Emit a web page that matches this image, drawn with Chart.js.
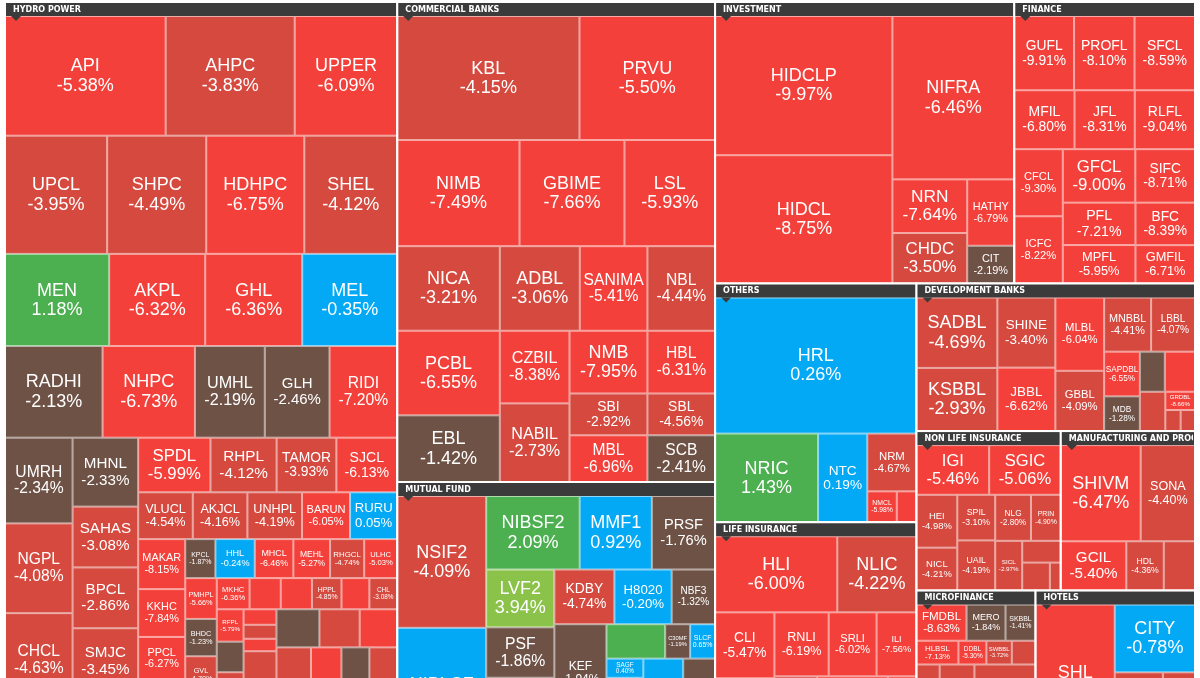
<!DOCTYPE html>
<html><head><meta charset="utf-8">
<script src="https://cdn.jsdelivr.net/npm/chart.js@4.4.1/dist/chart.umd.min.js"></script>
<style>html,body{margin:0;padding:0;background:#fff;overflow:hidden}canvas{display:block}</style>
</head><body>
<canvas id="c" width="1200" height="678"></canvas>
<script>
// ---- DATA (symbol, % change, relative size) ----
const sectorNames = ["HYDRO POWER","COMMERCIAL BANKS","MUTUAL FUND","INVESTMENT","FINANCE","OTHERS","LIFE INSURANCE","DEVELOPMENT BANKS","NON LIFE INSURANCE","MANUFACTURING AND PROC ESSING","MICROFINANCE","HOTELS"];
const sectorSize  = [295620,151680,87848,83738,50580,47800,47600,40866,22880,21280,20060,26860];

const hydroSym = ["API","AHPC","UPPER","UPCL","SHPC","HDHPC","SHEL","MEN","AKPL","GHL","MEL","RADHI","NHPC","UMHL","GLH","RIDI","UMRH","NGPL","CHCL","","MHNL","SAHAS","BPCL","SMJC","","SPDL","RHPL","TAMOR","SJCL","VLUCL","AKJCL","UNHPL","BARUN","RURU","MAKAR","KKHC","PPCL","PHCL","MMKJL","KPCL","HHL","MHCL","MEHL","RHGCL","ULHC","PMHPL","BHDC","GVL","HURJA","BGWT","MKHC","","","HPPL","","CHL","RFPL","","SMHL","","SPHL","","","","","","","","","","","","","","","","","","","",""];
const hydroChg = [-5.38,-3.83,-6.09,-3.95,-4.49,-6.75,-4.12,1.18,-6.32,-6.36,-0.35,-2.13,-6.73,-2.19,-2.46,-7.20,-2.34,-4.08,-4.63,-4.0,-2.33,-3.08,-2.86,-3.45,-5.5,-5.99,-4.12,-3.93,-6.13,-4.54,-4.16,-4.19,-6.05,0.05,-8.15,-7.84,-6.27,-6.32,-1.17,-1.87,-0.24,-6.46,-5.27,-4.74,-5.03,-5.66,-1.23,-4.70,-3.43,-2.52,-6.36,-5.5,-5.5,-4.85,-5.5,-3.08,-5.79,-2.0,-3.92,-2.0,0.74,-5.5,-4.0,-5.5,-4.0,-6.0,-2.0,-4.5,-5.5,-3.5,-6.0,-4.0,-5.5,-2.0,-4.0,-6.0,-4.0,-5.5,-3.5,-6.0,-4.0];
const hydroCap = [18800,15100,12000,11800,11450,11330,10740,9380,8650,8740,8560,8740,8280,6260,5800,6070,5660,5930,6200,3500,4420,3900,3900,4200,4250,3860,3530,3190,3250,2500,2500,2500,2200,2160,2300,2200,1980,1980,1700,1150,1500,1470,1400,1300,1260,1260,1150,1150,1050,1000,1000,950,950,900,850,850,850,800,800,750,750,500,450,400,1800,1700,1600,1500,1400,1300,1300,1200,1200,1100,1100,1000,1000,900,900,800,800,700];

const bankSym = ["KBL","PRVU","NIMB","GBIME","LSL","NICA","PCBL","EBL","ADBL","SANIMA","NBL","CZBIL","NABIL","NMB","HBL","SBI","MBL","SBL","SCB"];
const bankChg = [-4.15,-5.50,-7.49,-7.66,-5.93,-3.21,-6.55,-1.42,-3.06,-5.41,-4.44,-8.38,-2.73,-7.95,-6.31,-2.92,-6.96,-4.56,-2.41];
const bankCap = [22140,16480,12720,10920,9430,8500,8500,6700,6630,5610,5610,4960,5370,4790,4160,3190,3570,2770,3100];

const mfSym = ["NSIF2","NIBLCF","NIBSF2","MMF1","PRSF","LVF2","PSF","","KDBY","H8020","NBF3","KEF","SIGS3","","C30MF","SLCF","SAGF","","","","",""];
const mfChg = [-4.09,0.50,2.09,0.92,-1.76,3.94,-1.86,-2.0,-4.74,-0.20,-1.32,-1.94,-3.69,1.50,-1.19,0.65,0.40,0.30,0.20,-2.0,-4.0,0.5];
const mfCap = [11600,11630,6800,5250,4600,3900,3400,5550,3250,3100,2350,5000,2000,2000,850,850,700,3000,2500,2000,1500,1200];

const invSym = ["HIDCLP","HIDCL","NIFRA","NRN","CHDC","HATHY","CIT"];
const invChg = [-9.97,-8.75,-6.46,-7.64,-3.50,-6.79,-2.19];
const invCap = [24300,22400,19600,3950,3720,3080,1750];

const finSym = ["GUFL","PROFL","SFCL","MFIL","JFL","RLFL","CFCL","ICFC","GFCL","SIFC","PFL","MPFL","BFC","GMFIL"];
const finChg = [-9.91,-8.10,-8.59,-6.80,-8.31,-9.04,-9.30,-8.22,-9.00,-8.71,-7.21,-5.95,-8.39,-6.71];
const finCap = [4350,4400,4400,3480,3480,3480,3190,3200,3800,3130,3020,2740,2480,2240];

const othSym = ["HRL","NRIC","NTC","NRM","NMCL",""];
const othChg = [0.26,1.43,0.19,-4.67,-5.98,-6.0];
const othCap = [27000,9000,4300,2800,900,600];

const lifeSym = ["HLI","NLIC","CLI","","RNLI","SRLI","ILI","","","",""];
const lifeChg = [-6.00,-4.22,-5.47,-5.5,-6.19,-6.02,-7.56,-4.0,-6.0,-4.5,-5.5];
const lifeCap = [9100,5900,3830,4750,3400,3000,2500,3500,3000,2800,2340];

const devSym = ["SADBL","KSBBL","SHINE","JBBL","MLBL","GBBL","MNBBL","LBBL","SAPDBL","MDB","","","","GRDBL","",""];
const devChg = [-4.69,-2.93,-3.40,-6.62,-6.04,-4.09,-4.41,-4.07,-6.55,-1.28,-2.0,-5.5,-4.0,-8.66,-4.0,-4.0];
const devCap = [5460,4900,3900,3530,3430,2820,2440,2280,1530,1190,960,1160,960,520,310,290];

const nlSym = ["IGI","SGIC","HEI","NICL","SPIL","UAIL","NLG","PRIN","SICL","","",""];
const nlChg = [-5.46,-5.06,-4.98,-4.21,-3.10,-4.19,-2.80,-4.90,-2.97,-4.0,-4.0,-4.0];
const nlCap = [3550,3500,2120,1720,1700,1870,1620,1350,1320,825,760,300];

const mfgSym = ["SHIVM","SONA","GCIL","HDL",""];
const mfgChg = [-6.47,-4.40,-5.40,-4.36,-4.0];
const mfgCap = [7490,5090,3150,1800,1500];

const micSym = ["FMDBL","MERO","SKBBL","HLBSL","DDBL","SWBBL","","GBLBS","","","","","","","","",""];
const micChg = [-8.63,-1.84,-1.41,-7.13,-5.30,-3.72,-4.0,-4.0,-2.0,-5.5,-4.0,-6.0,-4.0,-4.5,-5.5,-2.0,-4.0];
const micCap = [1800,1400,1080,990,660,600,560,400,300,1500,1300,1100,900,2000,1600,1200,1000];

const hotSym = ["SHL","CITY","TRH","",""];
const hotChg = [-6.64,-0.78,-4.0,-4.0,-5.5];
const hotCap = [11700,5170,3000,2000,1690];

const sectorSym = [hydroSym,bankSym,mfSym,invSym,finSym,othSym,lifeSym,devSym,nlSym,mfgSym,micSym,hotSym];
const sectorChg = [hydroChg,bankChg,mfChg,invChg,finChg,othChg,lifeChg,devChg,nlChg,mfgChg,micChg,hotChg];
const sectorCap = [hydroCap,bankCap,mfCap,invCap,finCap,othCap,lifeCap,devCap,nlCap,mfgCap,micCap,hotCap];

// ---- layout helpers ----
function worst(row, side){
  const s=row.reduce((a,b)=>a+b,0), mx=Math.max(...row), mn=Math.min(...row);
  return Math.max(side*side*mx/(s*s), (s*s)/(side*side*mn));
}
function squarify(vals,x,y,w,h){
  const tot=vals.reduce((a,b)=>a+b,0), k=w*h/tot, areas=vals.map(v=>v*k), out=[];
  let i=0;
  while(i<areas.length){
    const side=Math.min(w,h); let row=[areas[i]], j=i+1;
    while(j<areas.length){ const nr=row.concat(areas[j]); if(worst(nr,side)<=worst(row,side)){row=nr;j++;} else break; }
    const s=row.reduce((a,b)=>a+b,0);
    if(w>=h){ const cw=s/h; let yy=y; row.forEach(a=>{const hh=a/cw; out.push([x,yy,cw,hh]); yy+=hh;}); x+=cw; w-=cw; }
    else { const rh=s/w; let xx=x; row.forEach(a=>{const ww=a/rh; out.push([xx,y,ww,rh]); xx+=ww;}); y+=rh; h-=rh; }
    i=j;
  }
  return out;
}
function colorFor(c){
  if(c>=3) return '#8bc34a';
  if(c>=1) return '#4caf50';
  if(c>-1) return '#03a9f4';
  if(c>-2.5) return '#6f5246';
  if(c>-5) return '#d5493f';
  return '#f4403a';
}

const HEADER=14;
const treemapPlugin={
  id:'treemap',
  afterDatasetsDraw(chart){
    const ctx=chart.ctx, xs=chart.scales.x, ys=chart.scales.y;
    const px=v=>xs.getPixelForValue(v), py=v=>ys.getPixelForValue(v);
    const secRects=squarify(sectorSize,5,2,1190,758);
    secRects.forEach((r,si)=>{
      const X=px(r[0]), Y=py(r[1]), W=px(r[0]+r[2])-X, H=py(r[1]+r[3])-Y;
      const inner=squarify(sectorCap[si],r[0],r[1]+HEADER,r[2],r[3]-HEADER);
      inner.forEach((c,i)=>{
        const cx=px(c[0]), cy=py(c[1]), cw=px(c[0]+c[2])-cx, ch=py(c[1]+c[3])-cy;
        ctx.fillStyle=colorFor(sectorChg[si][i]);
        ctx.fillRect(cx,cy,cw,ch);
        ctx.strokeStyle='rgba(255,255,255,0.55)'; ctx.lineWidth=1;
        ctx.strokeRect(cx+0.5,cy+0.5,cw-1,ch-1);
        const sym=sectorSym[si][i];
        if(sym){
          const ch2=sectorChg[si][i].toFixed(2)+'%';
          const len=Math.max(sym.length,ch2.length);
          const fs=Math.min(18,cw/(len*0.72),ch/3.0);
          if(fs>=5.5){
            ctx.fillStyle='#fff'; ctx.textAlign='center'; ctx.textBaseline='middle';
            ctx.font=fs+'px "Liberation Sans", Arial, sans-serif';
            const mx=cx+cw/2, my=cy+ch/2;
            ctx.fillText(sym,mx,my-fs*0.52);
            ctx.fillText(ch2,mx,my+fs*0.55);
          }
        }
      });
      ctx.fillStyle='#3b3b3b';
      ctx.fillRect(X,Y,W,HEADER);
      ctx.beginPath(); ctx.moveTo(X+6,Y+HEADER); ctx.lineTo(X+16,Y+HEADER); ctx.lineTo(X+11,Y+HEADER+5); ctx.closePath(); ctx.fill();
      ctx.save(); ctx.beginPath(); ctx.rect(X,Y,W-2,HEADER); ctx.clip();
      ctx.fillStyle='#fff'; ctx.textAlign='left'; ctx.textBaseline='middle';
      ctx.font='bold 8px "DejaVu Sans", sans-serif';
      ctx.fillText(sectorNames[si],X+8,Y+7.5);
      ctx.restore();
      ctx.strokeStyle='#fff'; ctx.lineWidth=2; ctx.strokeRect(X,Y,W,H);
    });
  }
};

new Chart(document.getElementById('c'),{
  type:'scatter',
  data:{datasets:[{data:[]}]},
  options:{
    responsive:false, animation:false,
    layout:{padding:0},
    plugins:{legend:{display:false},tooltip:{enabled:false}},
    scales:{
      x:{type:'linear',min:0,max:1200,display:false},
      y:{type:'linear',min:0,max:678,reverse:true,display:false}
    }
  },
  plugins:[treemapPlugin]
});
</script>
</body></html>
